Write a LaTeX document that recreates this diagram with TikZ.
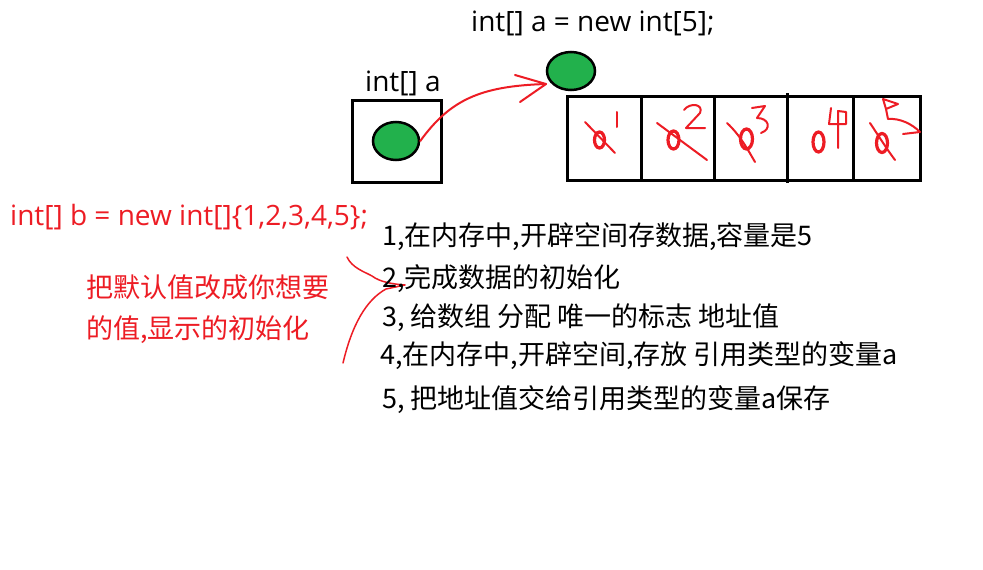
\documentclass[tikz,border=0pt]{standalone}
\usepackage{fontspec}
\usetikzlibrary{shapes.geometric}
\setmainfont{Noto Sans CJK SC}
\newfontfamily\latinf{Open Sans}
\definecolor{pred}{RGB}{237,28,36}
\definecolor{pgreen}{RGB}{34,177,76}
\begin{document}
\begin{tikzpicture}[x=1pt,y=-1pt,
  box/.style={draw=black,line width=3pt},
  dot/.style={draw=black,fill=pgreen,line width=2.5pt},
  pen/.style={draw=pred,line width=2pt,line cap=round,line join=round},
  zero/.style={draw=pred,line width=3.2pt},
  cjk/.style={font=\fontsize{27}{32}\selectfont,inner sep=0pt,anchor=west},
  code/.style={font=\latinf\fontsize{28}{32}\selectfont,inner sep=0pt,anchor=west}]
\useasboundingbox (0,0) rectangle (983,570);
\fill[white] (0,0) rectangle (983,570);
% title
\node[code] (t1) at (471,23) {int[] a = new int[5];};
\node[code] (t2) at (365,83) {int[] a};
% small box
\draw[box] (352,100) rectangle (441,182);
\node[dot,ellipse,minimum width=46pt,minimum height=38pt,inner sep=0pt] (e1) at (396,141) {};
\node[dot,ellipse,minimum width=48pt,minimum height=38pt,inner sep=0pt] (e2) at (571,71) {};
% array
\draw[box] (567,96) rectangle (920,180);
\draw[box] (641,96) -- (641,180);
\draw[box] (714,96) -- (714,180);
\draw[box] (787,93) -- (787,183);
\draw[box] (853,96) -- (853,180);
% arrow
\coordinate (tip) at (546,84);
\draw[pen] (e1.east) .. controls (450,100) and (480,86) .. (tip);
\draw[pen] (515,75) -- (tip) -- (520,102);
% cell 1
\draw[zero] (599.5,140) ellipse (5pt and 8pt);
\draw[pen] (585,122) -- (615,153);
\draw[pen] (617,112) -- (617,127);
% cell 2
\draw[zero] (673.5,140) ellipse (5.5pt and 9pt);
\draw[pen] (657,123) -- (707,160);
\draw[pen] (684,110) .. controls (690,102) and (704,104) .. (700,113) -- (686,128) -- (705,128);
% cell 3
\draw[zero] (746.5,139) ellipse (6pt and 10pt);
\draw[pen] (727,123) .. controls (740,135) and (748,150) .. (755,162);
\draw[pen] (752,108) -- (765,106) -- (757,118) .. controls (769,118) and (772,129) .. (761,133);
% cell 4
\draw[zero] (818.5,142) ellipse (5.5pt and 10pt);
\draw[pen] (831,108) -- (829,124) -- (846,124) -- (846,112) -- (838,111) -- (838,148);
% cell 5
\draw[zero] (882,143) ellipse (5.5pt and 9.5pt);
\draw[pen] (870,123) .. controls (878,135) and (886,148) .. (895,160);
\draw[pen] (883,99) -- (898,104) -- (886,109) -- (883,99);
\draw[pen] (886,109) -- (888,119) .. controls (900,118) and (912,124) .. (920,132) -- (903,134);
% red code and notes
\node[code,text=pred] (b) at (10,217) {int[] b = new int[]\{1,2,3,4,5\};};
\node[cjk,text=pred] (n1) at (86,287) {把默认值改成你想要};
\node[cjk,text=pred] (n2) at (86,330) {的值,显示的初始化};
% squiggle
\coordinate (s0) at (347,257);
\coordinate (s1) at (405,285);
\coordinate (s2) at (343,363);
\draw[pen,line width=1.5pt] (s0) .. controls (352,268) and (365,272) .. (372,276) .. controls (380,282) and (392,284) .. (s1) -- (386,289) .. controls (366,300) and (352,325) .. (s2);
% steps
\node[cjk] (l1) at (382,237) {1,在内存中,开辟空间存数据,容量是5};
\node[cjk] (l2) at (382,279) {2,完成数据的初始化};
\node[cjk] (l3) at (382,318) {3, 给数组 分配 唯一的标志 地址值};
\node[cjk] (l4) at (380,356) {4,在内存中,开辟空间,存放 引用类型的变量a};
\node[cjk] (l5) at (382,400) {5, 把地址值交给引用类型的变量a保存};
\end{tikzpicture}
\end{document}
